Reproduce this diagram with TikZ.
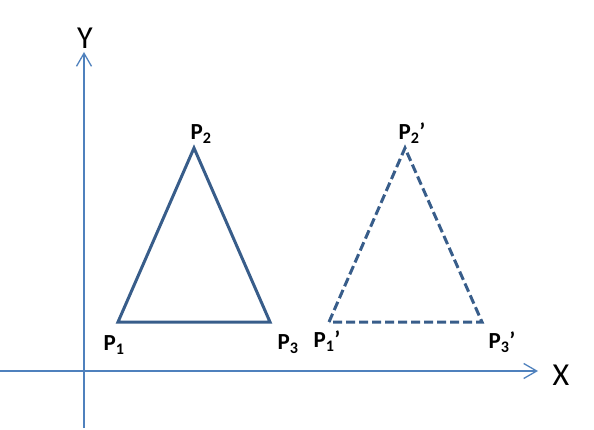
\documentclass[tikz,border=0pt]{standalone}
\usepackage{fontspec}
\setmainfont{Carlito}
\usetikzlibrary{arrows.meta}
\definecolor{axisblue}{RGB}{79,129,189}
\definecolor{triblue}{RGB}{56,93,138}
\tikzset{
  axisline/.style={axisblue, line width=1.3pt, -{Straight Barb[length=13pt,width=15pt,line width=1.3pt]}},
  triline/.style={triblue, line width=3pt, line join=miter},
  imgline/.style={triline, dash pattern=on 9pt off 4pt},
  ptlabel/.style={font=\bfseries\fontsize{23}{23}\selectfont, inner sep=0pt},
  axlabel/.style={font=\fontsize{32}{32}\selectfont, inner sep=0pt}
}
\begin{document}
\begin{tikzpicture}[x=1pt, y=-1pt]
        \useasboundingbox (0,0) rectangle (594,430);
        % Axes
        \coordinate (ystart) at (84,428);
        \coordinate (yend) at (84,52);
        \coordinate (xstart) at (0,371);
        \coordinate (xend) at (538,371);
        \draw[axisline] (ystart) -- (yend);
        \draw[axisline] (xstart) -- (xend);
        \node[axlabel] (ylab) at (85,38) {Y};
        \node[axlabel] (xlab) at (561,375) {X};

        % Original triangle
        \coordinate (p1) at (118,322);
        \coordinate (p2) at (194,148);
        \coordinate (p3) at (270,322);
        \draw[triline] (p1) -- (p2) -- (p3) -- cycle;
        \node[ptlabel] (l1) at (114,345) {P\textsubscript{1}};
        \node[ptlabel] (l2) at (201,134) {P\textsubscript{2}};
        \node[ptlabel] (l3) at (288,344) {P\textsubscript{3}};

        % Translated triangle
        \coordinate (q1) at (329,322);
        \coordinate (q2) at (405,148);
        \coordinate (q3) at (482,322);
        \draw[imgline] (q1) -- (q2) -- (q3) -- cycle;
        \node[ptlabel] (m1) at (327,341) {P\textsubscript{1}’};
        \node[ptlabel] (m2) at (412,133) {P\textsubscript{2}’};
        \node[ptlabel] (m3) at (502,342) {P\textsubscript{3}’};
    \end{tikzpicture}
\end{document}
